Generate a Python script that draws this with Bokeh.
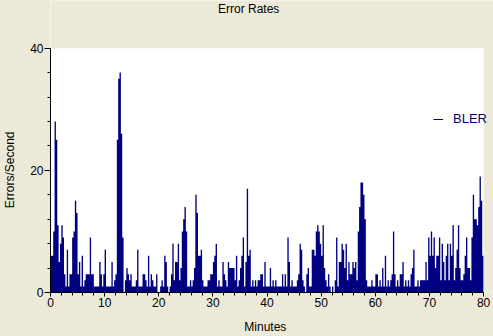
import numpy as np
from bokeh.plotting import figure
from bokeh.models import (ColumnDataSource, Legend, LegendItem, FixedTicker,
                          Range1d, BoxAnnotation, Label)
from bokeh.embed import file_html
from bokeh.resources import INLINE
from jinja2 import Template

# BLER errors/second in 10-minute chunks (40 samples each)
bler_00_10 = [6, 6, 10, 28, 25, 11, 5, 8, 11, 9, 3, 1, 7, 1, 3, 3, 9, 10, 15, 13,
              3, 5, 1, 6, 1, 2, 3, 3, 3, 9, 3, 3, 1, 1, 1, 1, 5, 3, 1, 3]
bler_10_20 = [7, 1, 1, 1, 1, 5, 1, 2, 3, 25, 35, 36, 26, 9, 0, 2, 4, 3, 2, 3,
              1, 1, 1, 2, 7, 1, 1, 1, 3, 3, 2, 1, 6, 1, 3, 2, 1, 1, 3, 0]
bler_20_30 = [0, 1, 2, 1, 6, 5, 1, 0, 1, 3, 8, 2, 5, 5, 8, 2, 4, 10, 12, 14,
              10, 1, 1, 2, 1, 2, 4, 16, 13, 6, 6, 7, 2, 1, 1, 1, 2, 2, 3, 3]
bler_30_40 = [5, 6, 8, 1, 2, 1, 1, 5, 3, 2, 1, 5, 4, 4, 4, 4, 2, 6, 1, 2,
              4, 6, 9, 1, 5, 17, 6, 7, 1, 2, 1, 2, 1, 2, 2, 3, 3, 1, 5, 1]
bler_40_50 = [1, 1, 4, 1, 2, 1, 2, 1, 1, 1, 1, 3, 1, 3, 1, 9, 5, 1, 2, 1,
              1, 1, 2, 3, 8, 7, 2, 1, 0, 3, 4, 1, 1, 7, 7, 6, 10, 11, 10, 8]
bler_50_60 = [6, 11, 4, 2, 1, 3, 1, 0, 1, 0, 2, 9, 1, 5, 5, 8, 7, 4, 8, 2,
              5, 3, 3, 5, 4, 5, 2, 10, 14, 18, 18, 16, 12, 2, 1, 1, 1, 2, 1, 1]
bler_60_70 = [3, 3, 1, 2, 1, 4, 1, 6, 1, 2, 1, 2, 3, 10, 3, 1, 2, 1, 3, 3,
              5, 1, 2, 1, 2, 1, 3, 4, 7, 1, 1, 2, 1, 2, 2, 2, 2, 5, 2, 9]
bler_70_80 = [6, 10, 6, 9, 4, 6, 6, 9, 2, 8, 5, 2, 6, 8, 2, 8, 6, 11, 2, 4,
              7, 11, 4, 2, 2, 3, 6, 9, 4, 4, 2, 9, 16, 12, 12, 11, 14, 19, 15, 6]

total_minutes = 80
y_max = 40
x_ticks = [0, 10, 20, 30, 40, 50, 60, 70, 80]
y_ticks = [0, 20, 40]

bler = (bler_00_10 + bler_10_20 + bler_20_30 + bler_30_40 +
        bler_40_50 + bler_50_60 + bler_60_70 + bler_70_80)
n = len(bler)
dt = total_minutes / n
edges = np.arange(n + 1) * dt
vals = np.array(bler + [bler[-1]], dtype=float)

src = ColumnDataSource(dict(x=edges, y1=np.zeros(n + 1), y2=vals))

FONT = "Liberation Sans"
NAVY = "#000080"
BG = "#ECE9D8"
NBSP = "\u00a0"

# frame spans the whole canvas except the left/bottom axis panels; the part
# beyond the 0..80 / 0..40 box is painted in the window colour
p = figure(width=493, height=336, output_backend="svg", toolbar_location=None,
           x_range=Range1d(0, 81.83), y_range=Range1d(0, 47.8),
           background_fill_color="white", border_fill_color=BG,
           outline_line_color=None,
           min_border_left=46, min_border_right=0,
           min_border_top=0, min_border_bottom=42)
p.title = None

p.varea_step(x="x", y1="y1", y2="y2", step_mode="after", source=src,
             fill_color=NAVY)
# off-screen line used only as the legend's glyph
leg_r = p.line(x=[-20, -10], y=[-20, -20], line_color=NAVY, line_width=1)

p.add_layout(BoxAnnotation(bottom=y_max, fill_color=BG, fill_alpha=1,
                           line_color=None))
p.add_layout(BoxAnnotation(left=total_minutes, fill_color=BG, fill_alpha=1,
                           line_color=None))

p.grid.visible = False

p.add_layout(Label(x=36.6, y=46.42, text="Error Rates", text_font=FONT,
                   text_font_size="12px", text_color="black",
                   text_align="center", text_baseline="middle"))

p.xaxis.ticker = FixedTicker(ticks=x_ticks, minor_ticks=list(range(0, 81, 2)))
p.yaxis.ticker = FixedTicker(ticks=y_ticks, minor_ticks=list(range(0, 41, 4)))
p.xaxis.bounds = (0, total_minutes)
p.yaxis.bounds = (0, y_max)
# trailing no-break spaces re-centre the labels on the 0..80 / 0..40 box
p.xaxis.axis_label = "Minutes" + NBSP * 4
p.yaxis.axis_label = "Errors/Second" + NBSP * 14

for ax in (p.xaxis[0], p.yaxis[0]):
    ax.axis_line_color = "black"
    ax.major_tick_line_color = "black"
    ax.minor_tick_line_color = "black"
    ax.major_tick_in = 0
    ax.minor_tick_in = 0
    ax.major_label_text_font = FONT
    ax.major_label_text_font_size = "12px"
    ax.major_label_text_color = "black"
    ax.axis_label_text_font = FONT
    ax.axis_label_text_font_size = "12px"
    ax.axis_label_text_font_style = "normal"
    ax.axis_label_text_color = "black"

p.xaxis.major_tick_out = 4
p.xaxis.minor_tick_out = 3
p.xaxis.major_label_standoff = 1
p.xaxis.axis_label_standoff = 10
p.yaxis.major_tick_out = 6
p.yaxis.minor_tick_out = 3
p.yaxis.major_label_standoff = 1
p.yaxis.axis_label_standoff = 10
p.yaxis.major_label_orientation = "horizontal"

legend = Legend(items=[LegendItem(label="BLER", renderers=[leg_r])],
                location=(383, 166), padding=0, margin=0, spacing=0,
                glyph_width=10, glyph_height=12, label_height=12,
                label_standoff=10, label_text_font=FONT,
                label_text_font_size="13px", label_text_color=NAVY,
                background_fill_alpha=0, border_line_alpha=0)
p.add_layout(legend)

template = Template("""{% extends base %}
{% block preamble %}<style>html,body{margin:0;padding:0;background:#ECE9D8;overflow:hidden;}</style>{% endblock %}""")

open("out.html", "w").write(file_html(p, INLINE, "Error Rates", template=template))
